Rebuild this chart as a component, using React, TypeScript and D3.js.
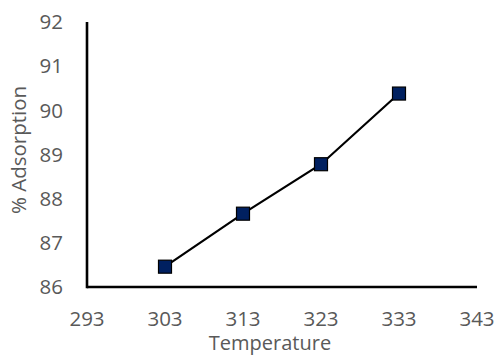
import React from "react";
import * as d3 from "d3";

const temperatures = [303, 313, 323, 333];
const adsorption = [86.46, 87.66, 88.78, 90.38];
const xTicks = [293, 303, 313, 323, 333, 343];
const yTicks = [86, 87, 88, 89, 90, 91, 92];

const W = 495;
const H = 356;
const margin = { left: 87, right: 18, top: 22, bottom: 69 };
const FONT = "'Open Sans', sans-serif";
const TEXT = "#595959";

export default function App() {
  const x = d3.scaleLinear().domain([293, 343]).range([margin.left, W - margin.right]);
  const y = d3.scaleLinear().domain([86, 92]).range([H - margin.bottom, margin.top]);
  const pts = temperatures.map((t, i) => [t, adsorption[i]] as [number, number]);
  const line = d3.line<[number, number]>().x((d) => x(d[0])).y((d) => y(d[1]));
  const m = 13;

  return (
    <svg width={W} height={H} style={{ position: "absolute", left: 0, top: 0, background: "#fff" }}>
      {/* y tick labels */}
      {yTicks.map((t) => (
        <text key={"y" + t} x={63} y={y(t)} dy="0.35em" textAnchor="end" fontFamily={FONT} fontSize={20.5} fill={TEXT}>
          {t}
        </text>
      ))}
      {/* x tick labels */}
      {xTicks.map((t) => (
        <text key={"x" + t} x={x(t)} y={326} textAnchor="middle" fontFamily={FONT} fontSize={20.5} fill={TEXT}>
          {t}
        </text>
      ))}
      {/* axes */}
      <line x1={x(293)} x2={x(343)} y1={y(86)} y2={y(86)} stroke="#000" strokeWidth={2.6} />
      <line x1={x(293)} x2={x(293)} y1={y(92)} y2={y(86) + 1.3} stroke="#000" strokeWidth={2.6} />
      {/* series */}
      <path d={line(pts) ?? ""} fill="none" stroke="#000" strokeWidth={2.2} />
      {pts.map((d, i) => (
        <rect key={i} x={x(d[0]) - m / 2} y={y(d[1]) - m / 2} width={m} height={m} fill="#002060" stroke="#000" strokeWidth={1.2} />
      ))}
      {/* axis titles */}
      <text x={270} y={350} textAnchor="middle" fontFamily={FONT} fontSize={20} fill={TEXT}>
        Temperature
      </text>
      <text transform="translate(26,150) rotate(-90)" textAnchor="middle" fontFamily={FONT} fontSize={20.5} fill={TEXT}>
        % Adsorption
      </text>
    </svg>
  );
}
